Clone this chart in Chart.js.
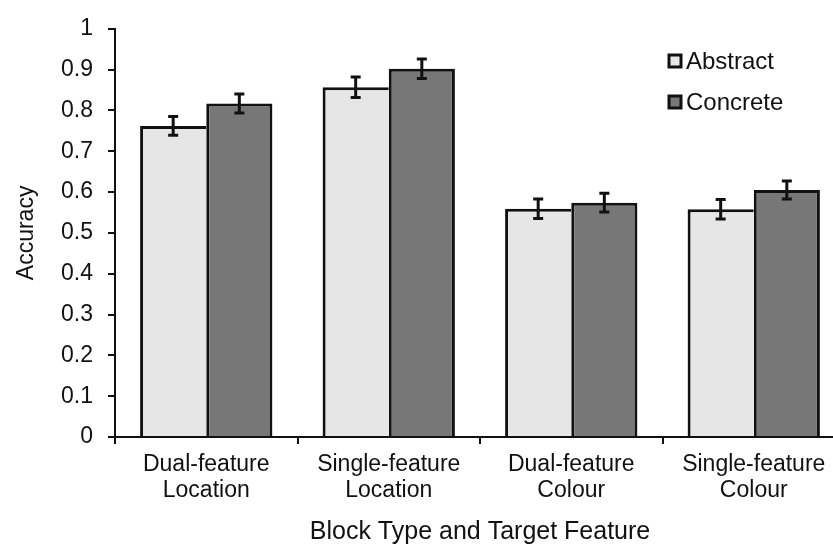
<!DOCTYPE html>
<html>
<head>
<meta charset="utf-8">
<script src="https://cdn.jsdelivr.net/npm/chart.js@4/dist/chart.umd.min.js"></script>
<style>
  html, body { margin: 0; padding: 0; background: #fff; overflow: hidden; }
  #wrap { width: 833px; height: 545px; overflow: hidden; }
</style>
</head>
<body>
<div id="wrap"><canvas id="chart" width="850" height="545"></canvas></div>
<script>
// chart data
const categories = [['Dual-feature', 'Location'], ['Single-feature', 'Location'], ['Dual-feature', 'Colour'], ['Single-feature', 'Colour']];
const abstractVals = [0.762, 0.857, 0.559, 0.558];
const concreteVals = [0.817, 0.902, 0.574, 0.605];
const abstractErr = [0.023, 0.025, 0.024, 0.024];
const concreteErr = [0.023, 0.024, 0.023, 0.022];
const yTicks = [0, 0.1, 0.2, 0.3, 0.4, 0.5, 0.6, 0.7, 0.8, 0.9, 1];

const FONT = '"Liberation Sans", Arial, sans-serif';

// error bars drawn through the y scale
const errorBars = {
  id: 'errorBars',
  afterDatasetsDraw(chart) {
    const ctx = chart.ctx;
    const y = chart.scales.y;
    chart.data.datasets.forEach((ds, i) => {
      const meta = chart.getDatasetMeta(i);
      meta.data.forEach((bar, j) => {
        const v = ds.data[j], e = ds.errors[j];
        const top = y.getPixelForValue(v + e);
        const bot = y.getPixelForValue(v - e);
        ctx.save();
        ctx.strokeStyle = '#111';
        ctx.lineWidth = 3;
        ctx.beginPath();
        ctx.moveTo(bar.x, top); ctx.lineTo(bar.x, bot);
        ctx.moveTo(bar.x - 5, top); ctx.lineTo(bar.x + 5, top);
        ctx.moveTo(bar.x - 5, bot); ctx.lineTo(bar.x + 5, bot);
        ctx.stroke();
        ctx.restore();
      });
    });
  }
};

// legend inside the plot, top right
const boxLegend = {
  id: 'boxLegend',
  afterDraw(chart) {
    const ctx = chart.ctx;
    const rows = [61, 102];
    chart.data.datasets.forEach((ds, i) => {
      const cy = rows[i];
      ctx.save();
      ctx.fillStyle = ds.backgroundColor;
      ctx.fillRect(669, cy - 6, 12, 12);
      ctx.strokeStyle = '#111';
      ctx.lineWidth = 3;
      ctx.strokeRect(669, cy - 6, 12, 12);
      ctx.fillStyle = '#111';
      ctx.font = '24px ' + FONT;
      ctx.textBaseline = 'middle';
      ctx.fillText(ds.label, 686, cy + 1);
      ctx.restore();
    });
  }
};

new Chart(document.getElementById('chart'), {
  type: 'bar',
  data: {
    labels: categories,
    datasets: [
      {
        label: 'Abstract',
        data: abstractVals,
        errors: abstractErr,
        backgroundColor: '#e6e6e6',
        borderColor: '#111',
        borderWidth: { top: 3, left: 3, right: 0, bottom: 0 },
        borderSkipped: false
      },
      {
        label: 'Concrete',
        data: concreteVals,
        errors: concreteErr,
        backgroundColor: '#777777',
        borderColor: '#111',
        borderWidth: { top: 3, left: 3, right: 3, bottom: 0 },
        borderSkipped: false
      }
    ]
  },
  options: {
    responsive: false,
    animation: false,
    events: [],
    layout: { padding: { left: 13, right: 5, top: 22, bottom: 0 } },
    datasets: { bar: { barPercentage: 1, categoryPercentage: 0.725 } },
    plugins: { legend: { display: false }, tooltip: { enabled: false } },
    scales: {
      x: {
        grid: { display: true, drawOnChartArea: false, drawTicks: true, tickLength: 7, color: '#111', lineWidth: 2 },
        border: { display: true, color: '#111', width: 2 },
        ticks: { color: '#111', font: { family: FONT, size: 23, lineHeight: 1.15 }, padding: 7, maxRotation: 0, autoSkip: false },
        title: { display: true, text: 'Block Type and Target Feature', color: '#111', font: { family: FONT, size: 25 }, padding: { top: 0, bottom: -2 } },
        afterFit(s) { s.height = 108; }
      },
      y: {
        min: 0,
        max: 1,
        afterBuildTicks(s) { s.ticks = yTicks.map(v => ({ value: v })); },
        grid: { display: true, drawOnChartArea: false, drawTicks: true, tickLength: 7, color: '#111', lineWidth: 2 },
        border: { display: true, color: '#111', width: 2 },
        ticks: { color: '#111', font: { family: FONT, size: 23 }, padding: 15, callback: v => String(+v.toFixed(1)) },
        title: { display: true, text: 'Accuracy', color: '#111', font: { family: FONT, size: 23 }, padding: 0 },
        afterFit(s) { s.width = 102; }
      }
    }
  },
  plugins: [errorBars, boxLegend]
});
</script>
</body>
</html>
